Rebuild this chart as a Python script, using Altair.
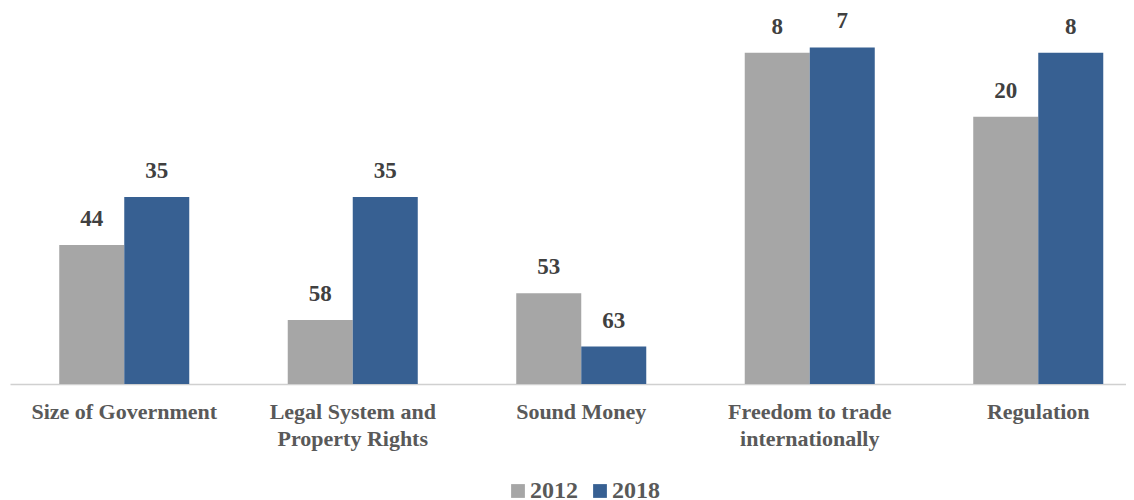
import altair as alt
import pandas as pd

categories = ["Size of Government", "Legal System and Property Rights", "Sound Money",
              "Freedom to trade internationally", "Regulation"]
years = ["2012", "2018"]
rank_2012 = [44, 58, 53, 8, 20]
rank_2018 = [35, 35, 63, 7, 8]
rank_ceiling = 70

rows = []
for c, a, b in zip(categories, rank_2012, rank_2018):
    rows.append({"category": c, "year": "2012", "rank": a})
    rows.append({"category": c, "year": "2018", "rank": b})
df = pd.DataFrame(rows)

FONT = "Liberation Serif"
label_expr = ("datum.label == 'Legal System and Property Rights' ? ['Legal System and', 'Property Rights'] : "
              "datum.label == 'Freedom to trade internationally' ? ['Freedom to trade', 'internationally'] : datum.label")

x = alt.X("category:N", sort=categories, title=None,
          scale=alt.Scale(range=[0, 1142.5], paddingInner=0.431, paddingOuter=0.2155),
          axis=alt.Axis(labelAngle=0, labelExpr=label_expr, ticks=False, domainColor="#d0d0d0",
                        domainWidth=1.5, labelFont=FONT, labelFontWeight="bold", labelFontSize=22,
                        labelColor="#595959", labelPadding=17, labelLineHeight=27, labelBaseline="top",
                        labelLimit=400))
xo = alt.XOffset("year:N", sort=years, scale=alt.Scale(paddingInner=0, paddingOuter=0))
y = alt.Y("score:Q", scale=alt.Scale(domain=[0, rank_ceiling]), axis=None)

base = alt.Chart(df).transform_calculate(score=f"{rank_ceiling} - datum.rank").encode(x=x, xOffset=xo, y=y)

bars = base.mark_bar().encode(
    color=alt.Color("year:N", sort=years,
                    scale=alt.Scale(domain=years, range=["#a6a6a6", "#376092"]),
                    legend=alt.Legend(title=None, orient="none", direction="horizontal",
                                      legendX=496, legendY=469, symbolType="square", symbolSize=190,
                                      symbolStrokeWidth=0, labelFont=FONT, labelFontWeight="bold",
                                      labelFontSize=24, labelColor="#595959", columnPadding=10,
                                      symbolOffset=0, labelOffset=0))
)
labels = base.mark_text(font=FONT, fontWeight="bold", fontSize=23, color="#404040",
                        baseline="alphabetic", dy=-19).encode(text="rank:Q")

chart = (bars + labels).properties(
    width=1116, height=374,
    autosize=alt.AutoSizeParams(type="none"),
    padding={"left": 2, "top": 2, "right": 0, "bottom": 114},
).configure_view(stroke=None)

chart.save("out.html", embed_options={"renderer": "svg", "actions": False})
